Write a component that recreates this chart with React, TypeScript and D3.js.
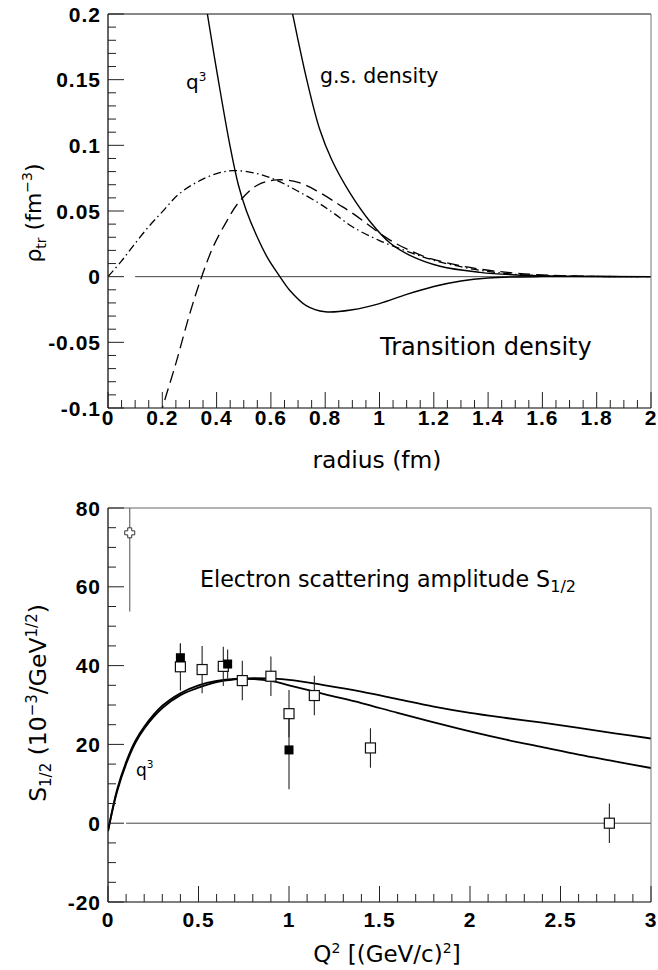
import React from "react";
import * as d3 from "d3";

// ---------- Top panel: transition densities ----------
const radiusQ3 = [0.35, 0.366, 0.406, 0.449, 0.48, 0.51, 0.55, 0.59, 0.63, 0.67, 0.73, 0.8, 0.9, 1.0, 1.1, 1.2, 1.3, 1.4, 1.5, 1.6, 2.0];
const rhoQ3 = [0.222, 0.2, 0.15, 0.1, 0.07, 0.05, 0.03, 0.0135, 0.001, -0.0105, -0.022, -0.0267, -0.0252, -0.0205, -0.0135, -0.0075, -0.0033, -0.001, -0.0002, 0, 0];

const radiusGs = [0.66, 0.68, 0.732, 0.78, 0.824, 0.891, 0.965, 1.039, 1.112, 1.223, 1.37, 1.505, 1.7, 2.0];
const rhoGs = [0.221, 0.2, 0.15, 0.112, 0.089, 0.0638, 0.042, 0.0256, 0.0162, 0.0079, 0.0033, 0.0013, 0.0003, 0];

const radiusDash = [0.19, 0.2, 0.25, 0.3, 0.345, 0.388, 0.437, 0.48, 0.548, 0.621, 0.707, 0.78, 0.85, 0.904, 1.026, 1.1, 1.174, 1.321, 1.493, 1.7, 2.0];
const rhoDash = [-0.107, -0.1, -0.066, -0.029, 0, 0.023, 0.0421, 0.0562, 0.0694, 0.0737, 0.0714, 0.064, 0.055, 0.0478, 0.0295, 0.0211, 0.0147, 0.0074, 0.0028, 0.0006, 0];

const radiusDashDot = [0, 0.05, 0.093, 0.149, 0.204, 0.259, 0.327, 0.4, 0.46, 0.548, 0.621, 0.7, 0.775, 0.83, 0.9, 1.0, 1.1, 1.2, 1.35, 1.5, 1.7, 2.0];
const rhoDashDot = [0, 0.012, 0.0235, 0.0379, 0.0503, 0.0625, 0.0719, 0.0785, 0.0808, 0.0785, 0.0734, 0.065, 0.0562, 0.0485, 0.038, 0.0275, 0.0195, 0.0125, 0.0055, 0.0018, 0.0004, 0];

const topXTicks = [0, 0.2, 0.4, 0.6, 0.8, 1, 1.2, 1.4, 1.6, 1.8, 2];
const topYTicks = [-0.1, -0.05, 0, 0.05, 0.1, 0.15, 0.2];

// ---------- Bottom panel: S1/2 amplitude ----------
const q2Grid = [0, 0.05, 0.1, 0.15, 0.2, 0.3, 0.4, 0.5, 0.6, 0.7, 0.8, 0.9, 1.0, 1.2, 1.4, 1.6, 1.8, 2.0, 2.2, 2.4, 2.6, 2.8, 3.0];
const curveUpper = [-2, 8.0, 15.0, 20.3, 24.0, 29.2, 32.5, 34.4, 35.8, 36.5, 36.8, 36.7, 36.4, 35.0, 33.4, 31.5, 29.6, 28.0, 26.7, 25.5, 24.2, 22.8, 21.5];
const curveLower = [-2, 8.5, 15.5, 20.8, 24.5, 29.8, 33.0, 35.0, 36.1, 36.6, 36.6, 36.1, 35.0, 32.7, 30.5, 28.0, 25.6, 23.3, 21.2, 19.3, 17.4, 15.7, 14.0];

const openQ2 = [0.40, 0.52, 0.637, 0.742, 0.90, 1.0, 1.14, 1.45, 2.77];
const openS = [39.7, 39.0, 39.8, 36.2, 37.3, 27.8, 32.4, 19.1, 0.0];
const openErr = [6, 6, 5, 5, 5, 6, 5, 5, 5];

const filledQ2 = [0.40, 0.661, 1.0];
const filledS = [42.0, 40.4, 18.6];
const filledErr = [3.5, 3.7, 10];

const crossQ2 = [0.12];
const crossS = [73.7];
const crossErr = [20];

const botXTicks = [0, 0.5, 1, 1.5, 2, 2.5, 3];
const botYTicks = [-20, 0, 20, 40, 60, 80];

const TITLE_FONT = "'DejaVu Sans', sans-serif";
const TICK_FONT = "'Liberation Sans', Arial, sans-serif";

function makeLine(xs: number[], ys: number[], sx: any, sy: any): string {
  return (
    d3
      .line<number>()
      .x((_, i) => sx(xs[i]))
      .y((_, i) => sy(ys[i]))
      .curve(d3.curveCatmullRom.alpha(0.5))(xs) || ""
  );
}

export default function App() {
  const xT = d3.scaleLinear().domain([0, 2]).range([108, 651]);
  const yT = d3.scaleLinear().domain([-0.1, 0.2]).range([408, 14]);
  const xB = d3.scaleLinear().domain([0, 3]).range([108, 651]);
  const yB = d3.scaleLinear().domain([-20, 80]).range([902, 508]);

  const topXMinor = d3.range(0, 41).map((i) => ({ v: i * 0.05, major: i % 4 === 0 }));
  const topYMinor = d3.range(-10, 21).map((i) => ({ v: i * 0.01, major: i % 5 === 0 }));
  const botXMinor = d3.range(0, 31).map((i) => ({ v: i * 0.1, major: i % 5 === 0 }));
  const botYMinor = d3.range(-4, 17).map((i) => ({ v: i * 5, major: i % 4 === 0 }));

  const crossPath = "M-2,-5H2V-2H5V2H2V5H-2V2H-5V-2H-2Z";

  return (
    <svg width={658} height={970} style={{ position: "absolute", left: 0, top: 0, background: "#fff" }}>
      <defs>
        <clipPath id="clipTop">
          <rect x={108} y={14} width={543} height={394} />
        </clipPath>
        <clipPath id="clipBot">
          <rect x={108} y={508} width={543} height={394} />
        </clipPath>
      </defs>
      <rect x={0} y={0} width={658} height={970} fill="#fff" />

      {/* ================= TOP PANEL ================= */}
      <g clipPath="url(#clipTop)" fill="none">
        <line x1={xT(0.1)} x2={xT(2)} y1={yT(0)} y2={yT(0)} stroke="#444" strokeWidth={1} />
        <path d={makeLine(radiusQ3, rhoQ3, xT, yT)} stroke="#000" strokeWidth={1.4} />
        <path d={makeLine(radiusGs, rhoGs, xT, yT)} stroke="#000" strokeWidth={1.4} />
        <path d={makeLine(radiusDash, rhoDash, xT, yT)} stroke="#000" strokeWidth={1.3} strokeDasharray="12,6" />
        <path d={makeLine(radiusDashDot, rhoDashDot, xT, yT)} stroke="#000" strokeWidth={1.3} strokeDasharray="8,3.5,1.5,3.5" />
      </g>
      {/* frame */}
      <line x1={108} x2={651} y1={14} y2={14} stroke="#111" strokeWidth={1} />
      <line x1={651} x2={651} y1={14} y2={408} stroke="#777" strokeWidth={1} />
      <line x1={108} x2={108} y1={14} y2={408} stroke="#000" strokeWidth={1.2} />
      <line x1={108} x2={651} y1={408} y2={408} stroke="#000" strokeWidth={1.2} />
      {topXMinor.map((t, i) => (
        <line key={"txm" + i} x1={xT(t.v)} x2={xT(t.v)} y1={408} y2={408 - (t.major ? 16 : 8)} stroke="#222" strokeWidth={1} />
      ))}
      {topYMinor.map((t, i) => (
        <line key={"tym" + i} x1={108} x2={108 + (t.major ? 16 : 8)} y1={yT(t.v)} y2={yT(t.v)} stroke="#222" strokeWidth={1} />
      ))}
      <g fontFamily={TICK_FONT} fontWeight="bold" fontSize={21} letterSpacing={1} fill="#000">
        {topXTicks.map((v) => (
          <text key={"txl" + v} x={xT(v)} y={425} textAnchor="middle">
            {String(v)}
          </text>
        ))}
        {topYTicks.map((v) => (
          <text key={"tyl" + v} x={101} y={yT(v) + 7.5} textAnchor="end">
            {String(v)}
          </text>
        ))}
      </g>
      <g fontFamily={TITLE_FONT} fill="#000">
        <text x={377} y={468} fontSize={23.4} textAnchor="middle">radius (fm)</text>
        <text transform="translate(41,213) rotate(-90)" fontSize={22} textAnchor="middle">
          ρ<tspan fontSize={14} dy={5}>tr</tspan>
          <tspan dy={-5}> (fm</tspan>
          <tspan fontSize={14} dy={-9}>−3</tspan>
          <tspan dy={9}>)</tspan>
        </text>
        <text x={186} y={89} fontSize={20}>
          q<tspan fontSize={12} dy={-8}>3</tspan>
        </text>
        <text x={320} y={83} fontSize={20.5}>g.s. density</text>
        <text x={380} y={355} fontSize={24}>Transition density</text>
      </g>

      {/* ================= BOTTOM PANEL ================= */}
      <g clipPath="url(#clipBot)">
        <line x1={xB(0.1)} x2={xB(3)} y1={yB(0)} y2={yB(0)} stroke="#444" strokeWidth={1} />
        <path d={makeLine(q2Grid, curveUpper, xB, yB)} fill="none" stroke="#000" strokeWidth={1.8} />
        <path d={makeLine(q2Grid, curveLower, xB, yB)} fill="none" stroke="#000" strokeWidth={1.8} />
        {crossQ2.map((q, i) => (
          <line key={"ce" + i} x1={xB(q)} x2={xB(q)} y1={yB(crossS[i] - crossErr[i])} y2={yB(crossS[i] + crossErr[i])} stroke="#777" strokeWidth={1.3} />
        ))}
        {openQ2.map((q, i) => (
          <line key={"oe" + i} x1={xB(q)} x2={xB(q)} y1={yB(openS[i] - openErr[i])} y2={yB(openS[i] + openErr[i])} stroke="#222" strokeWidth={1.1} />
        ))}
        {filledQ2.map((q, i) => (
          <line key={"fe" + i} x1={xB(q)} x2={xB(q)} y1={yB(filledS[i] - filledErr[i])} y2={yB(filledS[i] + filledErr[i])} stroke="#222" strokeWidth={1.1} />
        ))}
        {crossQ2.map((q, i) => (
          <path key={"cm" + i} d={crossPath} transform={`translate(${xB(q)},${yB(crossS[i])})`} fill="#fff" stroke="#333" strokeWidth={1} />
        ))}
        {openQ2.map((q, i) => (
          <rect key={"om" + i} x={xB(q) - 5} y={yB(openS[i]) - 5} width={10} height={10} fill="#fff" stroke="#111" strokeWidth={1.2} />
        ))}
        {filledQ2.map((q, i) => (
          <rect key={"fm" + i} x={xB(q) - 4.5} y={yB(filledS[i]) - 4.5} width={9} height={9} fill="#000" />
        ))}
      </g>
      <line x1={108} x2={651} y1={508} y2={508} stroke="#666" strokeWidth={1} />
      <line x1={651} x2={651} y1={508} y2={902} stroke="#777" strokeWidth={1} />
      <line x1={108} x2={108} y1={508} y2={902} stroke="#000" strokeWidth={1.2} />
      <line x1={108} x2={651} y1={902} y2={902} stroke="#000" strokeWidth={1.2} />
      {botXMinor.map((t, i) => (
        <line key={"bxm" + i} x1={xB(t.v)} x2={xB(t.v)} y1={902} y2={902 - (t.major ? 16 : 8)} stroke="#222" strokeWidth={1} />
      ))}
      {botYMinor.map((t, i) => (
        <line key={"bym" + i} x1={108} x2={108 + (t.major ? 16 : 8)} y1={yB(t.v)} y2={yB(t.v)} stroke="#222" strokeWidth={1} />
      ))}
      <g fontFamily={TICK_FONT} fontWeight="bold" fontSize={21} letterSpacing={1} fill="#000">
        {botXTicks.map((v) => (
          <text key={"bxl" + v} x={xB(v)} y={927} textAnchor="middle">
            {String(v)}
          </text>
        ))}
        {botYTicks.map((v) => (
          <text key={"byl" + v} x={101} y={yB(v) + 7.5} textAnchor="end">
            {String(v)}
          </text>
        ))}
      </g>
      <g fontFamily={TITLE_FONT} fill="#000">
        <text x={387} y={962} fontSize={23} textAnchor="middle">
          Q<tspan fontSize={14} dy={-9}>2</tspan>
          <tspan dy={9}> [(GeV/c)</tspan>
          <tspan fontSize={14} dy={-9}>2</tspan>
          <tspan dy={9}>]</tspan>
        </text>
        <text transform="translate(46,703) rotate(-90)" fontSize={23.5} textAnchor="middle">
          S<tspan fontSize={15} dy={5}>1/2</tspan>
          <tspan dy={-5}> (10</tspan>
          <tspan fontSize={15} dy={-9}>−3</tspan>
          <tspan dy={9}>/GeV</tspan>
          <tspan fontSize={15} dy={-9}>1/2</tspan>
          <tspan dy={9}>)</tspan>
        </text>
        <text x={200} y={587} fontSize={22.2}>
          Electron scattering amplitude S<tspan fontSize={16} dy={5}>1/2</tspan>
        </text>
        <text x={136} y={776} fontSize={17}>
          q<tspan fontSize={10.5} dy={-8}>3</tspan>
        </text>
      </g>
    </svg>
  );
}
